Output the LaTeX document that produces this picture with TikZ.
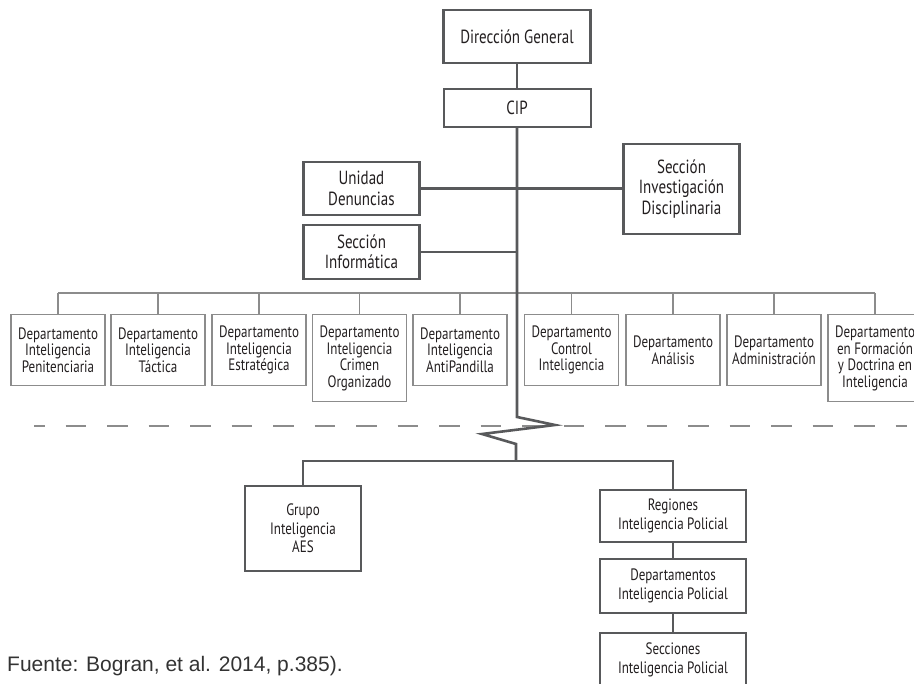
\documentclass[tikz,border=0pt]{standalone}
\usepackage{fontspec}
\setmainfont{PT Sans}[FakeStretch=0.79]
\newfontfamily\srcfont{Liberation Sans}
\usetikzlibrary{positioning}
\definecolor{boxgray}{HTML}{58595B}
\definecolor{deptgray}{HTML}{8C8C8C}
\definecolor{txt}{HTML}{231F20}
\definecolor{srctxt}{HTML}{333333}

\begin{document}
\begin{tikzpicture}[x=1pt,y=-1pt]
	\tikzstyle{every node}=[text=txt, align=center, inner sep=0pt]
	\tikzstyle{mainbox}=[draw=boxgray, line width=2.6pt, fill=white, minimum width=116pt, font=\fontsize{19}{20.5}\selectfont]
	\tikzstyle{deptbox}=[draw=deptgray, line width=1.5pt, anchor=north, minimum width=94pt, font=\fontsize{16.5}{16.5}\selectfont]
	\tikzstyle{lowbox}=[mainbox, font=\fontsize{16.5}{18.5}\selectfont]
	\tikzstyle{conn}=[draw=boxgray, line width=2.6pt]
	\tikzstyle{thin}=[draw=deptgray, line width=1.5pt]
	\useasboundingbox (0,0) rectangle (914,684);
	% top
	\node [mainbox, minimum width=147pt, minimum height=53pt] (dg) at (517,36.5) {Dirección General};
	\node [mainbox, line width=2pt, minimum width=147pt, minimum height=38pt] (cip) at (517,108) {CIP};
	\node [mainbox, minimum height=53pt] (ud) at (361.5,188.5) {Unidad\\Denuncias};
	\node [mainbox, minimum height=54pt] (si) at (361.5,252) {Sección\\Informática};
	\node [mainbox, minimum height=90pt] (sid) at (681.5,189) {Sección\\Investigación\\Disciplinaria};
	% departamentos
	\foreach \x/\h/\txt [count=\i] in {58/71/{Departamento\\Inteligencia\\Penitenciaria},
			158/71/{Departamento\\Inteligencia\\Táctica},
			259/71/{Departamento\\Inteligencia\\Estratégica},
			359.5/87/{Departamento\\Inteligencia\\Crimen\\Organizado},
			460/71/{Departamento\\Inteligencia\\AntiPandilla},
			571.5/71/{Departamento\\Control\\Inteligencia},
			673/71/{Departamento\\Análisis},
			774/71/{Departamento\\Administración},
			875/87/{Departamento\\en Formación\\y Doctrina en\\Inteligencia}}
		\node [deptbox, minimum height=\h pt] (d\i) at (\x,314) {\txt};
	\coordinate (dbus) at (0,293);
	\draw [thin] (d1.north |- dbus) -- (d9.north |- dbus);
	\foreach \i in {1,...,9}
		\draw [thin] (d\i.north) -- (d\i.north |- dbus);
	% corte
	\coordinate (cutL) at (34,426);
	\coordinate (cutR) at (907,426);
	\draw [deptgray, line width=2pt, dash pattern=on 20.5pt off 21pt, dash phase=10pt] (cutL) -- (cutR);
	% abajo
	\node [lowbox, minimum height=85pt] (grupo) at (303,528.5) {Grupo\\Inteligencia\\AES};
	\node [lowbox, minimum width=146pt, minimum height=52pt] (reg) at (673,516) {Regiones\\Inteligencia Policial};
	\node [lowbox, minimum width=146pt, minimum height=54pt] (depi) at (673,586) {Departamentos\\Inteligencia Policial};
	\node [lowbox, minimum width=146pt, minimum height=54pt] (secc) at (673,660) {Secciones\\Inteligencia Policial};
	% tronco
	\coordinate (zt) at (517,417);
	\coordinate (zr) at (555,425);
	\coordinate (zl) at (482,434);
	\coordinate (zb) at (516,444);
	\coordinate (lowbus) at (516,461);
	\draw [conn] (dg) -- (cip);
	\draw [conn] (cip.south) -- (zt) -- (zr) -- (zl) -- (zb) -- (lowbus);
	\draw [conn] (ud.east) -- (ud.east -| sid.west);
	\draw [conn] (si.east) -- (si.east -| zt);
	\draw [conn] (grupo.north) |- (lowbus) -| (reg.north);
	\draw [conn] (reg) -- (depi);
	\draw [conn] (depi) -- (secc);
	\node [anchor=base west, text=srctxt, font=\srcfont\fontsize{21}{21}\selectfont] (src) at (7,671) {Fuente: Bogran, et al. 2014, p.385).};
\end{tikzpicture}
\end{document}
